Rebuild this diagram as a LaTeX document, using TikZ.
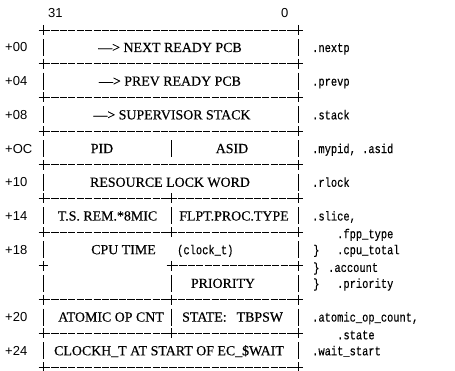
\documentclass[tikz,border=0pt]{standalone}
\usepackage{fontspec}
\newfontfamily\capsfam{Liberation Serif}[FakeBold=0.4]
\newfontfamily\sansfam{Liberation Sans}
\newfontfamily\monofam{Liberation Mono}[FakeBold=0.3]
\newcommand\capsfont{\capsfam\fontsize{13.9}{16}\selectfont}
\newcommand\monofont{\monofam\fontsize{13}{15}\selectfont}
\newcommand\offsfont{\sansfam\fontsize{13}{15}\selectfont}
\newcommand\mem[1]{\scalebox{0.8}[1]{#1}}
\newcommand\crossat[2]{\draw[bar] (#1-4.5,#2) -- (#1+4.5,#2) (#1,#2-5) -- (#1,#2+5);}
\newcommand\barat[2]{\draw[bar] (#1,#2+9) -- (#1,#2+26);}
\tikzset{
  field/.style={font=\capsfont, inner sep=0pt, anchor=base},
  member/.style={font=\monofont, inner sep=0pt, anchor=base west},
  offset/.style={font=\offsfont, inner sep=0pt, anchor=base west},
  rule/.style={line width=0.8pt, dash pattern=on 7.2pt off 1.23pt},
  bar/.style={line width=0.9pt},
}
\begin{document}
\begin{tikzpicture}[x=1pt, y=-1pt]
\useasboundingbox (0,0) rectangle (455,371);

% bit numbers
\node[offset] (bit31) at (48,18) {31};
\node[offset] (bit0) at (281,18) {0};

% separators
\foreach \y in {30,63.7,97.4,131.1,164.8,198.5,232.2,299.6,333.3,367} {
  \draw[rule] (43,\y) -- (298,\y);
  \crossat{43}{\y}
  \crossat{298}{\y}
}
\draw[rule] (171,265.9) -- (298,265.9);
\crossat{43}{265.9}
\crossat{298}{265.9}
\foreach \y in {198.5,232.2,265.9,299.6,333.3} {
  \crossat{171}{\y}
}

% side bars
\foreach \y in {30,63.7,97.4,131.1,164.8,198.5,232.2,265.9,299.6,333.3} {
  \barat{43}{\y}
  \barat{298}{\y}
}
\foreach \y in {131.1,198.5,265.9,299.6} {
  \barat{171}{\y}
}

% offsets
\node[offset] (off00) at (5,52) {+00};
\node[offset] (off04) at (5,85.7) {+04};
\node[offset] (off08) at (5,119.4) {+08};
\node[offset] (off0c) at (5,153.1) {+OC};
\node[offset] (off10) at (5,186.8) {+10};
\node[offset] (off14) at (5,220.5) {+14};
\node[offset] (off18) at (5,254.2) {+18};
\node[offset] (off20) at (5,321.6) {+20};
\node[offset] (off24) at (5,355.3) {+24};

% fields
\node[field] (nextpcb) at (170,52) {\textemdash> NEXT READY PCB};
\node[field] (prevpcb) at (170,85.7) {\textemdash> PREV READY PCB};
\node[field] (supstack) at (172,119.4) {\textemdash> SUPERVISOR STACK};
\node[field] (pid) at (102,153.1) {PID};
\node[field] (asid) at (232,153.1) {ASID};
\node[field] (rlock) at (170,186.8) {RESOURCE LOCK WORD};
\node[field] (tsrem) at (107.5,220.5) {T.S. REM.*8MIC};
\node[field] (flpt) at (234,220.5) {FLPT.PROC.TYPE};
\node[field] (cputime) at (123.5,254.2) {CPU TIME};
\node[member] (clockt) at (177,254.2) {\mem{(clock\_t)}};
\node[field] (prio) at (223,287.9) {PRIORITY};
\node[field] (atomic) at (111,321.6) {ATOMIC OP CNT};
\node[field, anchor=base west] (state) at (182,321.6) {STATE:\hspace{10pt}TBPSW};
\node[field] (clockh) at (169,355.3) {CLOCKH\_T AT START OF EC\_\$WAIT};

% members
\node[member] (nextp) at (312,52) {\mem{.nextp}};
\node[member] (prevp) at (312,85.7) {\mem{.prevp}};
\node[member] (stack) at (312,119.4) {\mem{.stack}};
\node[member] (mypid) at (312,153.1) {\mem{.mypid, .asid}};
\node[member] (rlockm) at (312,186.8) {\mem{.rlock}};
\node[member] (slice) at (312,220.5) {\mem{.slice,}};
\node[member] (fpptype) at (337,238.2) {\mem{.fpp\_type}};
\node[member] (brace1) at (313,254.2) {\mem{\}}};
\node[member] (cputotal) at (337,254.2) {\mem{.cpu\_total}};
\node[member] (brace2) at (313,271.9) {\mem{\}}};
\node[member] (account) at (328,271.9) {\mem{.account}};
\node[member] (brace3) at (313,287.9) {\mem{\}}};
\node[member] (priority) at (337,287.9) {\mem{.priority}};
\node[member] (atomicm) at (312,321.6) {\mem{.atomic\_op\_count,}};
\node[member] (statem) at (337,339.3) {\mem{.state}};
\node[member] (waitstart) at (312,355.3) {\mem{.wait\_start}};
\end{tikzpicture}
\end{document}
